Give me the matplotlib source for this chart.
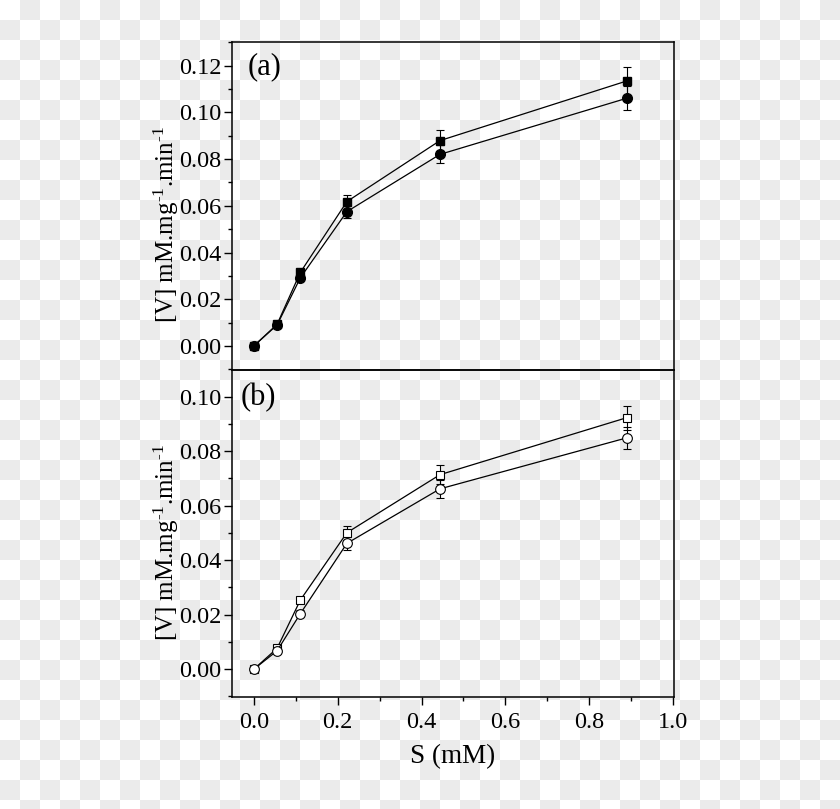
import numpy as np
import matplotlib
matplotlib.use('Agg')
import matplotlib.pyplot as plt
from matplotlib.ticker import MultipleLocator

plt.rcParams['font.family'] = 'Liberation Serif'
plt.rcParams['mathtext.fontset'] = 'custom'
plt.rcParams['mathtext.rm'] = 'Liberation Serif'
plt.rcParams['mathtext.default'] = 'regular'

# substrate concentrations (mM)
s_conc = [0.0, 0.0556, 0.111, 0.222, 0.444, 0.889]

# panel (a) - filled symbols
a_square = [0.0, 0.0093, 0.0315, 0.0618, 0.0879, 0.1134]
a_square_err = [0.0005, 0.0008, 0.0015, 0.0030, 0.0046, 0.0060]
a_circle = [0.0, 0.0090, 0.0292, 0.0575, 0.0820, 0.1060]
a_circle_err = [0.0005, 0.0008, 0.0015, 0.0026, 0.0038, 0.0051]

# panel (b) - open symbols
b_square = [0.0, 0.0077, 0.0254, 0.0501, 0.0714, 0.0923]
b_square_err = [0.0005, 0.0010, 0.0012, 0.0025, 0.0035, 0.0044]
b_circle = [0.0, 0.0068, 0.0204, 0.0462, 0.0662, 0.0849]
b_circle_err = [0.0005, 0.0010, 0.0012, 0.0025, 0.0033, 0.0041]

ylabel = r'[V] mM.mg$^{\text{-1}}$.min$^{\text{-1}}$'

fig = plt.figure(figsize=(8.4, 8.09), dpi=100)

# checkerboard background (transparent png look)
bg = fig.add_axes([0, 0, 1, 1])
bg.set_axis_off()
cols, rows = 42, 41
checker = (np.add.outer(np.arange(rows), np.arange(cols)) % 2).astype(float)
bg.imshow(checker, cmap=matplotlib.colors.ListedColormap(['white', '#ebebeb']),
          extent=(0, 840, 820, 0), interpolation='nearest', aspect='auto')
bg.set_xlim(0, 840)
bg.set_ylim(809, 0)

ax1 = fig.add_axes([0.2762, 0.5426, 0.5262, 0.4055])
ax2 = fig.add_axes([0.2762, 0.1384, 0.5262, 0.4042], sharex=ax1)

common = dict(color='k', lw=0.9, elinewidth=0.8, capsize=3, capthick=0.8)

ax1.errorbar(s_conc, a_square, yerr=a_square_err, fmt='-s', ms=6, mfc='k', **common)
ax1.errorbar(s_conc, a_circle, yerr=a_circle_err, fmt='-o', ms=7, mfc='k', **common)
ax2.errorbar(s_conc, b_square, yerr=b_square_err, fmt='-s', ms=6, mfc='white', mew=0.8, **common)
ax2.errorbar(s_conc, b_circle, yerr=b_circle_err, fmt='-o', ms=7, mfc='white', mew=0.8, **common)

for ax in (ax1, ax2):
    ax.set_facecolor('none')
    for sp in ax.spines.values():
        sp.set_linewidth(1.1)
    ax.xaxis.set_major_locator(MultipleLocator(0.2))
    ax.xaxis.set_minor_locator(MultipleLocator(0.1))
    ax.yaxis.set_major_locator(MultipleLocator(0.02))
    ax.yaxis.set_minor_locator(MultipleLocator(0.01))
    ax.tick_params(which='major', direction='out', length=6, width=1.0, labelsize=17.5, pad=1.5)
    ax.tick_params(which='minor', direction='out', length=3, width=1.0)
    ax.yaxis.set_major_formatter(matplotlib.ticker.FormatStrFormatter('%.2f'))
    ax.set_ylabel(ylabel, fontsize=18)

ax1.set_xlim(-0.052, 1.002)
ax1.set_ylim(-0.0103, 0.1301)
ax2.set_ylim(-0.0102, 0.1098)
ax1.tick_params(axis='x', which='both', length=0, labelbottom=False)
ax2.xaxis.set_major_formatter(matplotlib.ticker.FormatStrFormatter('%.1f'))
ax2.tick_params(axis='x', pad=5)
ax2.set_xlabel('S (mM)', fontsize=19.5, labelpad=8)

ax1.yaxis.set_label_coords(-0.115, 0.445)
ax2.yaxis.set_label_coords(-0.115, 0.474)

ax1.text(0.035, 0.925, '(a)', transform=ax1.transAxes, fontsize=22, va='center', ha='left')
ax2.text(0.02, 0.915, '(b)', transform=ax2.transAxes, fontsize=22, va='center', ha='left')

fig.savefig('out.png', dpi=100)
